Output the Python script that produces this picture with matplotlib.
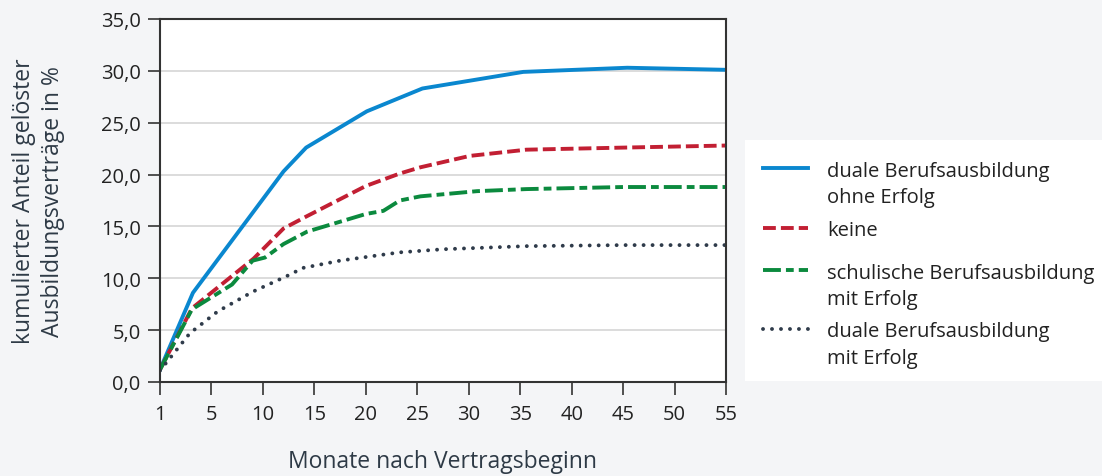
import numpy as np
import matplotlib
matplotlib.use('Agg')
import matplotlib.pyplot as plt
from matplotlib.patches import Rectangle
from matplotlib.lines import Line2D

plt.rcParams['font.family'] = ['Open Sans', 'DejaVu Sans']

# x positions on the axis (0 = month 1), values in %
x_blue = [0, 3.2, 12.0, 14.2, 20.1, 25.5, 35.3, 45.4, 55]
y_blue = [1.2, 8.6, 20.3, 22.6, 26.1, 28.3, 29.9, 30.3, 30.1]

x_red = [0, 3.1, 9.1, 12.0, 14.3, 20.0, 23.3, 25.3, 30.1, 35.6, 45.0, 55]
y_red = [1.2, 7.1, 11.9, 14.8, 16.0, 18.9, 20.1, 20.7, 21.8, 22.4, 22.6, 22.8]

x_green = [0, 3.1, 7.0, 9.0, 10.2, 12.0, 14.3, 20.0, 21.7, 23.3, 25.3, 30.8, 35.6, 45.0, 55]
y_green = [1.2, 7.0, 9.4, 11.7, 12.0, 13.3, 14.5, 16.2, 16.5, 17.5, 17.9, 18.4, 18.6, 18.8, 18.8]

x_navy = [0, 2.9, 5.6, 9.0, 12.3, 13.9, 17.5, 21.1, 23.3, 27.5, 35.6, 45.0, 55]
y_navy = [1.1, 4.7, 6.8, 8.7, 10.2, 11.0, 11.7, 12.2, 12.5, 12.8, 13.1, 13.2, 13.2]

xticks = [0, 5, 10, 15, 20, 25, 30, 35, 40, 45, 50, 55]
xlabels = ['1', '5', '10', '15', '20', '25', '30', '35', '40', '45', '50', '55']
yticks = [0, 5, 10, 15, 20, 25, 30, 35]

labels = ['duale Berufsausbildung\nohne Erfolg', 'keine',
          'schulische Berufsausbildung\nmit Erfolg', 'duale Berufsausbildung\nmit Erfolg']

bg = '#f4f5f7'
txt = '#2e3a46'
W, H = 1102, 477

fig = plt.figure(figsize=(W/100, H/100), dpi=100, facecolor=bg)
ax = fig.add_axes([160/W, 1-383/H, (726-160)/W, (383-20)/H])
ax.set_facecolor('white')

lw = 2.8
styles = [dict(color='#0a87cf', lw=lw),
          dict(color='#c21f33', lw=lw, dashes=(3.3, 1.3)),
          dict(color='#0b8a3e', lw=lw, dashes=(4.6, 1.3, 2.0, 1.3)),
          dict(color='#2f3b4a', lw=lw, dashes=(0.01, 2.3), dash_capstyle='round')]

ax.plot(x_blue, y_blue, **styles[0])
ax.plot(x_red, y_red, **styles[1])
ax.plot(x_green, y_green, **styles[2])
ax.plot(x_navy, y_navy, **styles[3])

ax.set_xlim(0, 55)
ax.set_ylim(0, 35)
ax.set_xticks(xticks)
ax.set_xticklabels(xlabels)
ax.set_yticks(yticks)
ax.set_yticklabels([('%.1f' % v).replace('.', ',') for v in yticks])
ax.grid(axis='y', color='#d6d6d6', lw=1.2)
ax.set_axisbelow(True)
for s in ax.spines.values():
    s.set_color('#333333')
    s.set_linewidth(1.5)
ax.tick_params(axis='both', length=9, width=1.2, color='#333333', labelsize=14.5,
               labelcolor='#222222', pad=5)
ax.tick_params(axis='x', pad=7)

ax.set_xlabel('Monate nach Vertragsbeginn', fontsize=16.5, color=txt)
ax.xaxis.set_label_coords(0.5, -0.185)
ax.set_ylabel('kumulierter Anteil gelöster\nAusbildungsverträge in %', fontsize=16.5,
              color=txt, linespacing=1.25)
ax.yaxis.set_label_coords(-0.168, 0.5)

# legend box, drawn by hand so the keys sit on the first text line
fig.patches.append(Rectangle((745/W, 1-382/H), 1-745/W, (382-141)/H,
                             transform=fig.transFigure, facecolor='white',
                             edgecolor='none', zorder=0))
entry_y = [169, 229, 271, 330]
for st, lab, yy in zip(styles, labels, entry_y):
    fig.lines.append(Line2D([763/W, 808/W], [1-yy/H, 1-yy/H],
                            transform=fig.transFigure, **st))
    for i, part in enumerate(lab.split('\n')):
        fig.text(827/W, 1-(yy+i*27)/H, part, fontsize=14.5, color='#222222',
                 va='center_baseline', ha='left')

fig.savefig('out.png', dpi=100, facecolor=bg)
